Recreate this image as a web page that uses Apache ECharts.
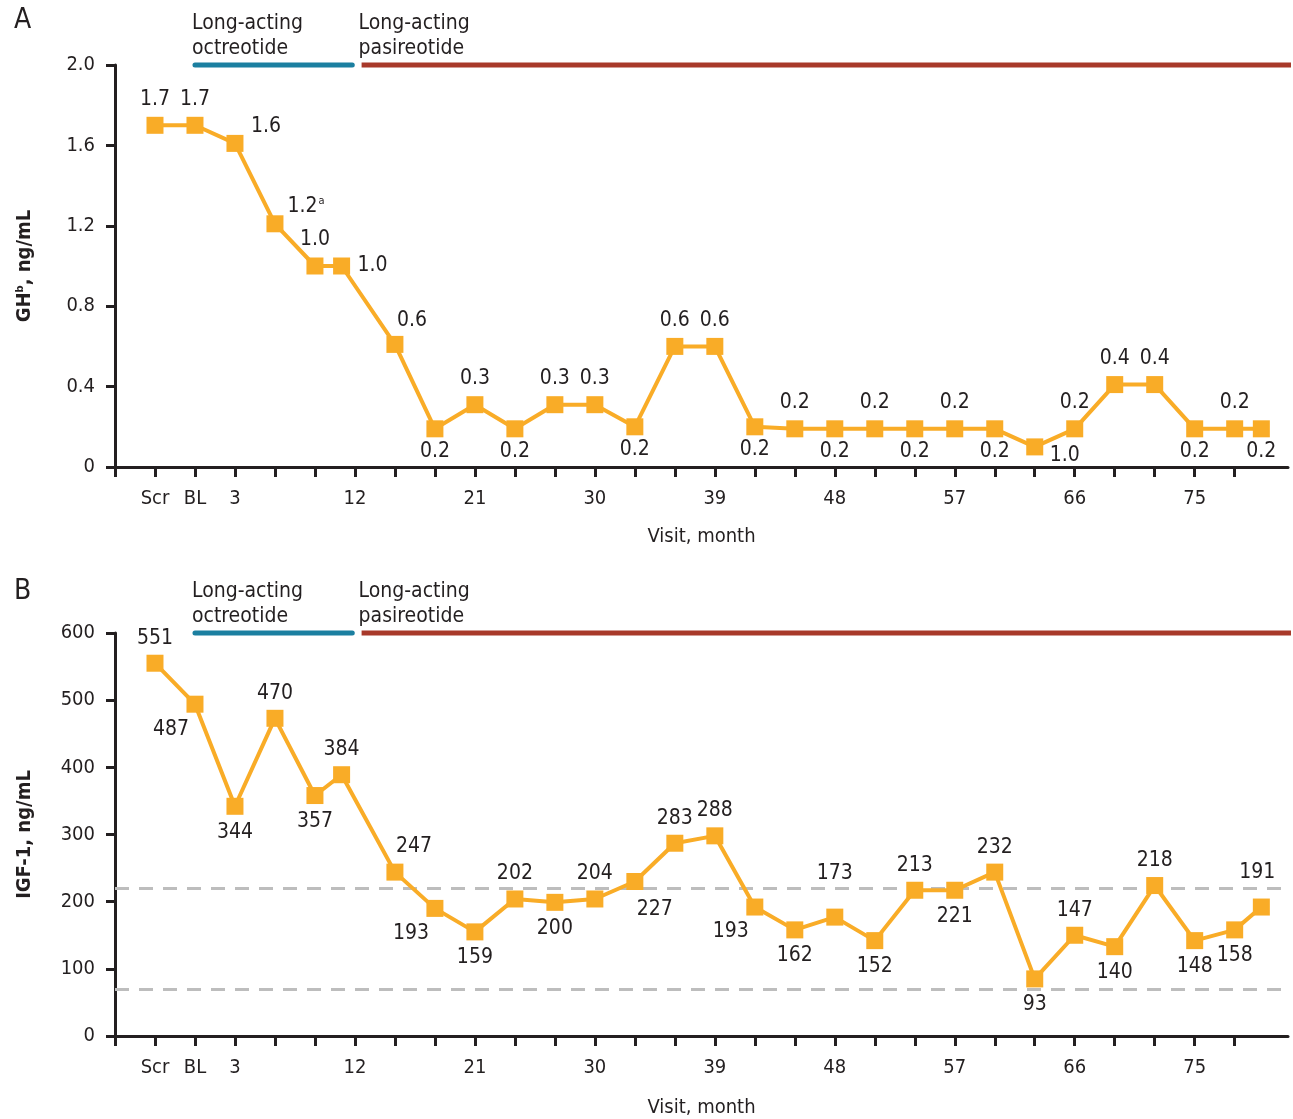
<!DOCTYPE html>
<html>
<head>
<meta charset="utf-8">
<script src="https://cdn.jsdelivr.net/npm/echarts@6/dist/echarts.min.js"></script>
<style>
html,body{margin:0;padding:0;background:#fff;}
#main{width:1293px;height:1119px;}
</style>
</head>
<body>
<div id="main"></div>
<script>
// ---------- data ----------
const months = [-3, 0, 3, 6, 9, 11, 15, 18, 21, 24, 27, 30, 33, 36, 39, 42, 45, 48, 51, 54, 57, 60, 63, 66, 69, 72, 75, 78, 80];
const ghValues = [1.7, 1.7, 1.61, 1.21, 1.0, 1.0, 0.61, 0.19, 0.31, 0.19, 0.31, 0.31, 0.2, 0.6, 0.6, 0.2, 0.19, 0.19, 0.19, 0.19, 0.19, 0.19, 0.1, 0.19, 0.41, 0.41, 0.19, 0.19, 0.19];
const ghLabels = ['1.7', '1.7', '1.6', '1.2{sup|a}', '1.0', '1.0', '0.6', '0.2', '0.3', '0.2', '0.3', '0.3', '0.2', '0.6', '0.6', '0.2', '0.2', '0.2', '0.2', '0.2', '0.2', '0.2', '1.0', '0.2', '0.4', '0.4', '0.2', '0.2', '0.2'];
const ghPlacement = ['t', 't', 'ur', 'ur', 't', 'r', 'tr', 'b', 't', 'b', 't', 't', 'b', 't', 't', 'b', 't', 'b', 't', 'b', 't', 'b', 'dr', 't', 't', 't', 'b', 't', 'b'];
const igfValues = [555, 494, 342, 473, 358, 389, 244, 190, 155, 204, 199, 204, 230, 287, 298, 192, 158, 177, 142, 217, 217, 244, 85, 150, 133, 224, 142, 158, 192];
const igfLabels = ['551', '487', '344', '470', '357', '384', '247', '193', '159', '202', '200', '204', '227', '283', '288', '193', '162', '173', '152', '213', '221', '232', '93', '147', '140', '218', '148', '158', '191'];
const igfPlacement = ['t', 'bl', 'b', 't', 'b', 't', 'tr', 'bl', 'b', 't', 'b', 't', 'br', 't', 't', 'bl', 'b', 'tt', 'b', 't', 'b', 't', 'b', 't', 'b', 't', 'b', 'b', 'th'];
const igfReference = [220, 70];
const octreotideSpan = [0, 11.8];
const pasireotideSpan = [12.5, 82.4];
const periodNames = ['Long-acting\noctreotide', 'Long-acting\npasireotide'];
const xTickValues = [-6, -3, 0, 3, 6, 9, 12, 15, 18, 21, 24, 27, 30, 33, 36, 39, 42, 45, 48, 51, 54, 57, 60, 63, 66, 69, 72, 75, 78];
const xLabelValues = [-3, 0, 3, 12, 21, 30, 39, 48, 57, 66, 75];
const xSpecialLabels = {'-3': 'Scr', '0': 'BL'};
const panelNames = ['A', 'B'];

// ---------- styles ----------
const FONT = '"DejaVu Sans Condensed", "Liberation Sans", Arial, sans-serif';
const TXT = '#231f20';
const ORANGE = '#f9ac27';
const BLUE = '#1b7fa0';
const RED = '#a8392a';

const offA = {t: [0, -26], b: [0, 23], r: [31, 0], ur: [31, -17], tr: [17, -24], dr: [30, 9]};
const offB = {t: [0, -25], b: [0, 26], bl: [-24, 25], tr: [19, -26], br: [20, 28], tt: [0, -44], th: [-4, -34]};

function seriesData(vals, labels, places, offs) {
  return vals.map((v, i) => ({
    value: [months[i], v],
    label: {
      show: true,
      position: 'inside',
      offset: offs[places[i]],
      formatter: labels[i]
    }
  }));
}

function xAxisCfg(gi, gap) {
  return {
    type: 'value', gridIndex: gi, min: -6, max: 82,
    name: 'Visit, month', nameLocation: 'middle', nameGap: gap,
    nameTextStyle: {fontFamily: FONT, fontSize: 20, color: TXT},
    axisLine: {onZero: false, lineStyle: {color: TXT, width: 3}},
    axisTick: {show: true, length: 10, lineStyle: {color: TXT, width: 3}, customValues: xTickValues},
    axisLabel: {
      customValues: xLabelValues, margin: 22,
      fontFamily: FONT, fontSize: 20, color: TXT,
      formatter: v => (xSpecialLabels[String(v)] !== undefined ? xSpecialLabels[String(v)] : String(v))
    },
    splitLine: {show: false}
  };
}

function yAxisCfg(gi, max, interval, name, fmt) {
  return {
    type: 'value', gridIndex: gi, min: 0, max: max, interval: interval,
    name: name, nameLocation: 'middle', nameGap: 80,
    nameTextStyle: {
      fontFamily: FONT, fontSize: 20, fontWeight: 'bold', color: TXT,
      rich: {sup: {fontFamily: FONT, fontSize: 11, fontWeight: 'bold', color: TXT, verticalAlign: 'top', lineHeight: 20}}
    },
    axisLine: {show: true, onZero: false, lineStyle: {color: TXT, width: 3}},
    axisTick: {show: true, length: 9, lineStyle: {color: TXT, width: 3}},
    axisLabel: {margin: 20, fontFamily: FONT, fontSize: 20, color: TXT, formatter: fmt},
    splitLine: {show: false}
  };
}

function periodSeries(gi, yTop, span, color, cap) {
  return {
    type: 'line', xAxisIndex: gi, yAxisIndex: gi, silent: true, clip: false,
    symbol: 'none', animation: false,
    lineStyle: {color: color, width: 5, cap: cap},
    data: [[span[0], yTop], [span[1], yTop]],
    z: 3
  };
}

function periodLabelSeries(gi, yTop) {
  return {
    type: 'scatter', xAxisIndex: gi, yAxisIndex: gi, silent: true, clip: false,
    symbolSize: 0, itemStyle: {color: TXT}, animation: false,
    data: [[octreotideSpan[0], yTop], [pasireotideSpan[0], yTop]].map((d, i) => ({
      value: d,
      label: {
        show: true, position: 'right', distance: 0, offset: [-3, -29],
        align: 'left', verticalAlign: 'middle',
        formatter: periodNames[i],
        fontFamily: FONT, fontSize: 21, lineHeight: 25, color: TXT, opacity: 1
      }
    }))
  };
}

function mainSeries(gi, vals, labels, places, offs, extra) {
  return Object.assign({
    type: 'line', xAxisIndex: gi, yAxisIndex: gi, animation: false,
    symbol: 'rect', symbolSize: 17,
    itemStyle: {color: ORANGE},
    lineStyle: {color: ORANGE, width: 4},
    label: {
      fontFamily: FONT, fontSize: 21, color: TXT,
      rich: {sup: {fontFamily: FONT, fontSize: 11, color: TXT, verticalAlign: 'top', lineHeight: 22, padding: [0, 0, 0, 1]}}
    },
    data: seriesData(vals, labels, places, offs),
    z: 5
  }, extra || {});
}

const chart = echarts.init(document.getElementById('main'), null, {renderer: 'canvas'});
chart.setOption({
  backgroundColor: '#fff',
  animation: false,
  grid: [
    {left: 115, top: 65, width: 1173, height: 402},
    {left: 115, top: 633, width: 1173, height: 403}
  ],
  xAxis: [xAxisCfg(0, 60), xAxisCfg(1, 62)],
  yAxis: [
    yAxisCfg(0, 2, 0.4, 'GH{sup|b}, ng/mL', v => (v === 0 ? '0' : v.toFixed(1))),
    yAxisCfg(1, 600, 100, 'IGF-1, ng/mL', v => String(v))
  ],
  graphic: [
    {type: 'text', left: 14, top: 7, style: {text: panelNames[0], font: '28px ' + FONT, fill: TXT}},
    {type: 'text', left: 14, top: 578, style: {text: panelNames[1], font: '28px ' + FONT, fill: TXT}}
  ],
  series: [
    periodSeries(0, 2, octreotideSpan, BLUE, 'round'),
    periodSeries(0, 2, pasireotideSpan, RED, 'butt'),
    periodLabelSeries(0, 2),
    mainSeries(0, ghValues, ghLabels, ghPlacement, offA),
    periodSeries(1, 600, octreotideSpan, BLUE, 'round'),
    periodSeries(1, 600, pasireotideSpan, RED, 'butt'),
    periodLabelSeries(1, 600),
    mainSeries(1, igfValues, igfLabels, igfPlacement, offB, {
      markLine: {
        silent: true, symbol: 'none', animation: false,
        label: {show: false},
        lineStyle: {color: '#bdbdbd', width: 3, type: [14, 10]},
        data: igfReference.map(v => ({yAxis: v}))
      }
    })
  ]
});
</script>
</body>
</html>
